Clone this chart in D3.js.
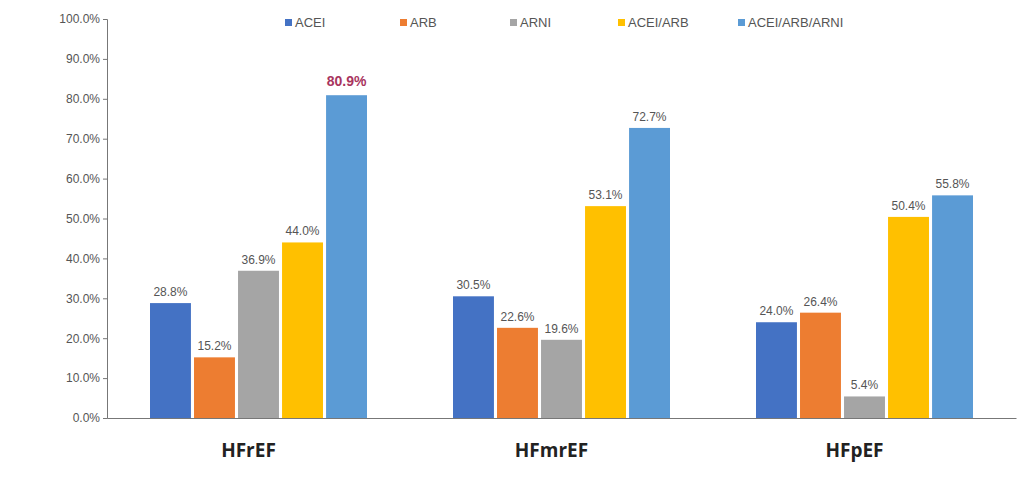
<!DOCTYPE html><html><head><meta charset="utf-8"><script src="https://cdn.jsdelivr.net/npm/d3@7"></script>
<style>body{margin:0;background:#fff}</style></head><body><svg id="c" width="1030" height="480"></svg><script>
const categories=["HFrEF","HFmrEF","HFpEF"];
const series=["ACEI","ARB","ARNI","ACEI/ARB","ACEI/ARB/ARNI"];
const colors=["#4472C4","#ED7D31","#A5A5A5","#FFC000","#5B9BD5"];
const values=[[28.8,15.2,36.9,44.0,80.9],[30.5,22.6,19.6,53.1,72.7],[24.0,26.4,5.4,50.4,55.8]];
const yTicks=[0,10,20,30,40,50,60,70,80,90,100];
const svg=d3.select("#c");
const x=d3.scaleBand().domain(categories).range([107,1016]);
const xi=d3.scaleBand().domain(series).range([43,260]).paddingInner(0.07);
const y=d3.scaleLinear().domain([0,100]).range([418,19]);
const ya=svg.append("g").attr("transform","translate(107,0)").call(d3.axisLeft(y).tickValues(yTicks).tickSize(4).tickFormat(d=>d.toFixed(1)+"%"));
ya.selectAll("text").attr("font-family","Arial, Liberation Sans").attr("font-size",12).attr("fill","#555");
ya.selectAll("line,path").attr("stroke","#777");
const xa=svg.append("g").attr("transform","translate(0,418)").call(d3.axisBottom(x).tickSize(0).tickFormat(""));
xa.select("path").attr("stroke","#777");
categories.forEach((c,ci)=>{
  const g=svg.append("g").attr("transform",`translate(${x(c)},0)`);
  series.forEach((s,si)=>{
    const v=values[ci][si];
    g.append("rect").attr("x",xi(s)).attr("width",xi.bandwidth()).attr("y",y(v)).attr("height",y(0)-y(v)).attr("fill",colors[si]);
    const big=(ci==0&&si==4);
    g.append("text").attr("x",xi(s)+xi.bandwidth()/2).attr("y",y(v)-(big?9:7)).attr("text-anchor","middle")
     .attr("font-family","Arial, Liberation Sans").attr("font-size",big?14:12).attr("font-weight",big?"bold":"normal")
     .attr("fill",big?"#a8345e":"#555").text(v.toFixed(1)+"%");
  });
  svg.append("text").attr("x",x(c)+x.bandwidth()/2-10).attr("y",457).attr("text-anchor","middle").attr("font-family","Open Sans, Arial").attr("font-weight","bold").attr("font-size",19).attr("fill","#222").text(c);
});
const lx=[285,400,510,618,738];
series.forEach((s,i)=>{
  svg.append("rect").attr("x",lx[i]).attr("y",19).attr("width",7).attr("height",7).attr("fill",colors[i]);
  svg.append("text").attr("x",lx[i]+10).attr("y",27).attr("font-family","Arial, Liberation Sans").attr("font-size",13).attr("fill","#555").text(s);
});
</script></body></html>
